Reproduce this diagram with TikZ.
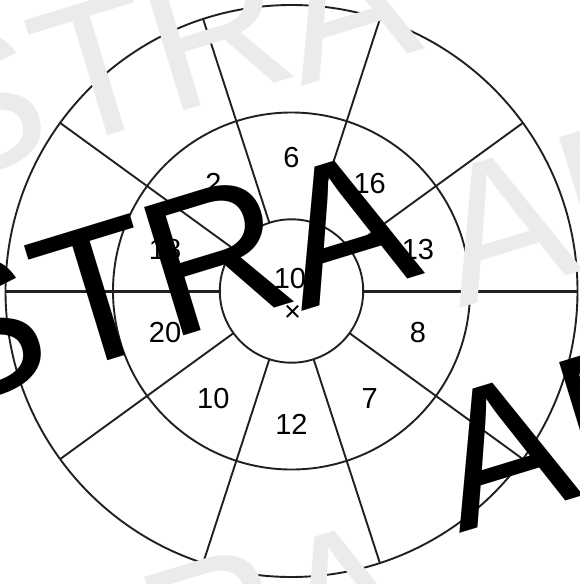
\documentclass[tikz,border=0pt]{standalone}
\usepackage{fontspec}
\setmainfont{Liberation Sans}
\definecolor{ink}{HTML}{231F20}
\definecolor{wm}{HTML}{EBEBEB}
\begin{document}
\begin{tikzpicture}[x=1pt,y=-1pt,
  ring/.style={draw=ink,line width=1.9pt},
  spoke/.style={draw=ink,line width=1.9pt},
  axisline/.style={draw=ink,line width=3pt},
  num/.style={inner sep=0pt,outer sep=0pt,font=\fontsize{29}{29}\selectfont,text=black},
  wmblack/.style={inner sep=0pt,outer sep=0pt,anchor=base west,rotate=17,font=\fontsize{195}{195}\selectfont,text=black},
  wmgray/.style={wmblack,text=wm}]
\useasboundingbox (0,0) rectangle (580,584);
\clip (0,0) rectangle (580,584);
\fill[white] (0,0) rectangle (580,584);
\coordinate (O) at (291.5,291);
% rings
\draw[ring] (O) circle[radius=286];
\draw[ring] (O) circle[radius=178.5];
\draw[ring] (O) circle[radius=71.7];
% spokes
\foreach \a in {36,72,108,144,216,252,288,324}{
  \path (O) ++(\a:71.7) coordinate (i\a);
  \path (O) ++(\a:286) coordinate (o\a);
  \draw[spoke] (i\a) -- (o\a);
}
\path (O) ++(0:71.7) coordinate (i0);
\path (O) ++(0:286) coordinate (o0);
\path (O) ++(180:71.7) coordinate (i180);
\path (O) ++(180:286) coordinate (o180);
\draw[axisline] (i0) -- (o0);
\draw[axisline] (i180) -- (o180);
% sector numbers (visual angle -> flipped)
\path (O) ++(-90:133) node[num] (n6) {6};
\path (O) ++(-54:133) node[num] (n16) {16};
\path (O) ++(-18:133) node[num] (n13) {13};
\path (O) ++(18:133) node[num] (n8) {8};
\path (O) ++(54:133) node[num] (n7) {7};
\path (O) ++(90:133) node[num] (n12) {12};
\path (O) ++(126:133) node[num] (n10b) {10};
\path (O) ++(162:133) node[num] (n20) {20};
\path (O) ++(198:133) node[num] (n18) {18};
\path (O) ++(234:133) node[num] (n2) {2};
\node[num] (n10) at (290,279) {10};
\node[num] (cross) at (292.5,313.5) {×};
% light watermark
\node[wmgray] (gS) at (-65,188) {S};
\node[wmgray] (gT) at (59,150) {T};
\node[wmgray] (gR) at (168,115) {R};
\node[wmgray] (gA) at (301,86) {A};
\node[wmgray] (gA2) at (459,308) {A};
\node[wmgray] (gM) at (583,270) {M};
\node[wmgray] (gR3) at (168,710) {R};
\node[wmgray] (gA3) at (301,681) {A};
% dark watermark
\node[wmblack] (bS) at (-65,413) {S};
\node[wmblack] (bT) at (59,375) {T};
\node[wmblack] (bR) at (168,340) {R};
\node[wmblack] (bA) at (301,311) {A};
\node[wmblack] (bA2) at (459,533) {A};
\node[wmblack] (bM) at (583,495) {M};
\end{tikzpicture}
\end{document}
